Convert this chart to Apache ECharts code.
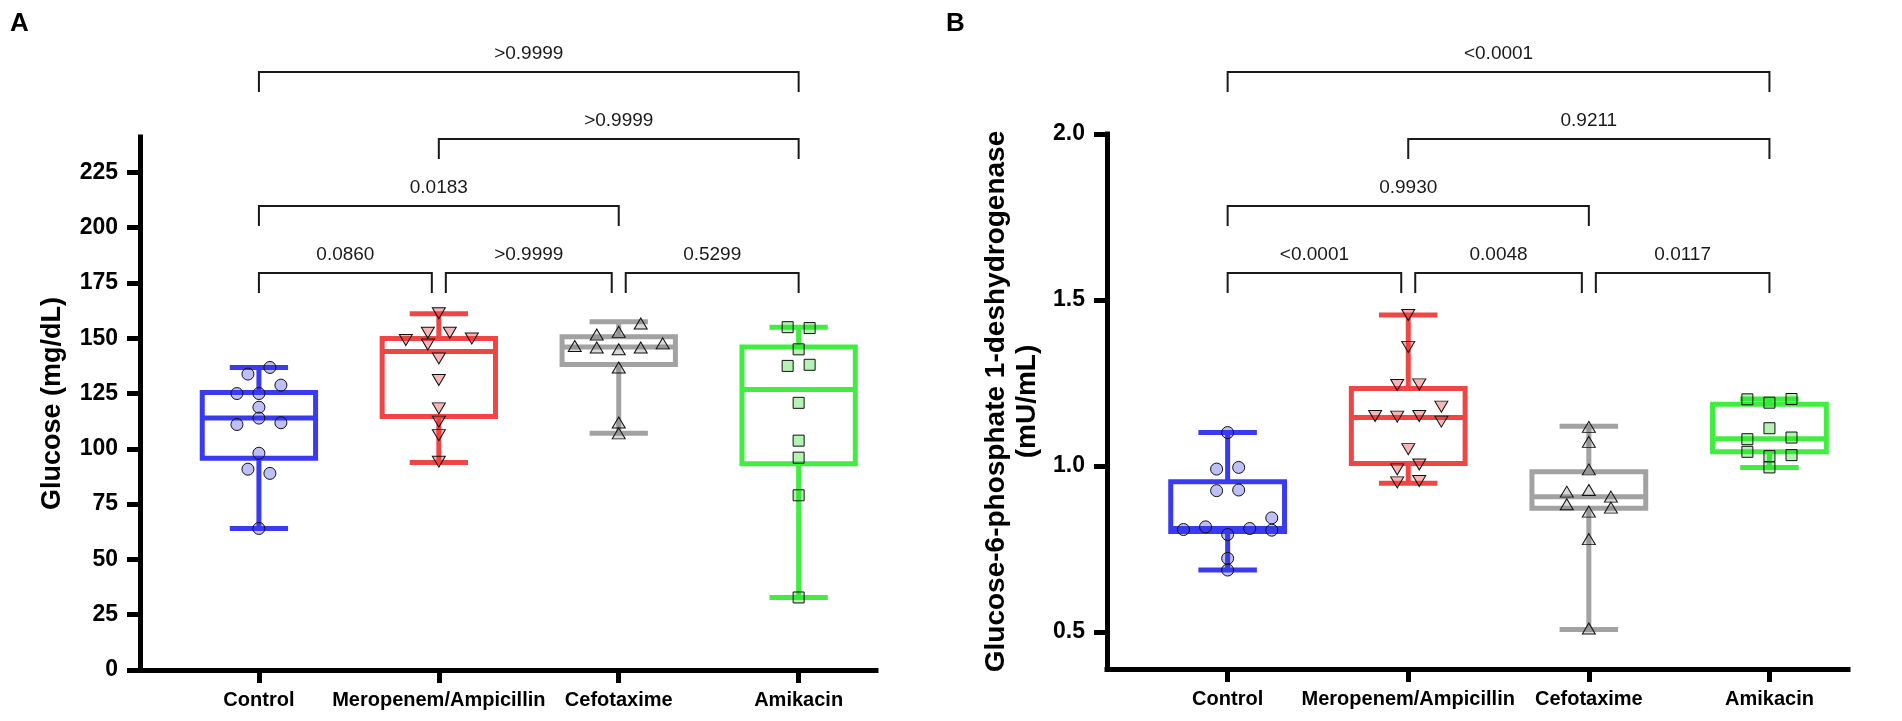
<!DOCTYPE html>
<html><head><meta charset="utf-8">
<script src="https://cdn.jsdelivr.net/npm/echarts@6/dist/echarts.min.js"></script>
<style>html,body{margin:0;padding:0;background:#fff}#c{width:1902px;height:721px}</style>
</head><body><div id="c"></div>
<script>
// ---------------- DATA ----------------
const categories = ['Control', 'Meropenem/Ampicillin', 'Cefotaxime', 'Amikacin'];

// Panel A: Glucose (mg/dL) — individual values and swarm lane of each point
const glucoseControl = [136.8, 133.8, 128.8, 125.0, 125.0, 118.8, 113.9, 111.0, 111.8, 98.0, 90.8, 88.9, 64.0];
const glucoseControlLane = [1, -1, 2, -2, 0, 0, 0, -2, 2, 0, -1, 1, 0];
const glucoseMero = [161.3, 152.5, 152.5, 149.2, 149.9, 147.2, 140.9, 131.1, 118.3, 112.3, 106.2, 94.2];
const glucoseMeroLane = [0, -1, 1, -3, 3, -1, 0, 0, 0, 0, 0, 0];
const glucoseCefo = [156.7, 151.7, 152.9, 146.5, 145.8, 145.0, 145.8, 147.7, 136.8, 111.9, 107.0];
const glucoseCefoLane = [2, -2, 0, -4, -2, 0, 2, 4, 0, 0, 0];
const glucoseAmik = [155.0, 154.6, 145.0, 137.5, 138.0, 120.8, 103.7, 96.0, 79.0, 32.8];
const glucoseAmikLane = [-1, 1, 0, -1, 1, 0, 0, 0, 0, 0];
// box statistics: [min, Q1, median, Q3, max]
const glucoseBox = [
  [64.0, 95.7, 114.0, 125.5, 136.8],
  [93.8, 114.6, 144.0, 149.9, 161.1],
  [107.0, 138.1, 146.0, 150.7, 157.5],
  [32.8, 93.3, 126.8, 146.1, 155.0]
];
const glucoseTicks = [0, 25, 50, 75, 100, 125, 150, 175, 200, 225];
const glucosePairs = [[0, 1], [1, 2], [2, 3], [0, 2], [1, 3], [0, 3]];
const glucoseP = ['0.0860', '>0.9999', '0.5299', '0.0183', '>0.9999', '>0.9999'];

// Panel B: Glucose-6-phosphate 1-deshydrogenase (mU/mL)
const g6pdControl = [1.101, 0.991, 0.996, 0.926, 0.928, 0.844, 0.809, 0.817, 0.812, 0.807, 0.794, 0.722, 0.687];
const g6pdControlLane = [0, -1, 1, -1, 1, 4, -4, -2, 2, 4, 0, 0, 0];
const g6pdMero = [1.455, 1.359, 1.244, 1.246, 1.179, 1.151, 1.149, 1.151, 1.134, 1.051, 1.005, 0.990, 0.951, 0.955];
const g6pdMeroLane = [0, 0, -1, 1, 3, -3, -1, 1, 3, 0, 1, -1, -1, 1];
const g6pdCefo = [1.118, 1.073, 0.990, 0.923, 0.928, 0.908, 0.885, 0.875, 0.863, 0.780, 0.511];
const g6pdCefoLane = [0, 0, 0, -2, 0, 2, -2, 2, 0, 0, 0];
const g6pdAmik = [1.201, 1.191, 1.202, 1.114, 1.081, 1.086, 1.043, 1.030, 1.033, 0.996];
const g6pdAmikLane = [-2, 0, 2, 0, -2, 2, -2, 0, 2, 0];
const g6pdBox = [
  [0.687, 0.803, 0.812, 0.953, 1.101],
  [0.948, 1.008, 1.146, 1.234, 1.455],
  [0.508, 0.873, 0.908, 0.983, 1.120],
  [0.996, 1.043, 1.082, 1.186, 1.202]
];
const g6pdTicks = [0.5, 1.0, 1.5, 2.0];
const g6pdPairs = [[0, 1], [1, 2], [2, 3], [0, 2], [1, 3], [0, 3]];
const g6pdP = ['<0.0001', '0.0048', '0.0117', '0.9930', '0.9211', '<0.0001'];

// ---------------- STYLE / LAYOUT ----------------
const FONT = "'Liberation Sans', Arial, Helvetica, sans-serif";
const LANE = 11 / 180;           // x-units between swarm lanes
const BOX_HALF = 0.315, CAP_HALF = 0.162;
const lineColors = ['#3a3af0', '#f04545', '#a2a2a2', '#40ee40'];
const fillColors = ['rgba(60,60,230,0.33)', 'rgba(235,60,60,0.38)', 'rgba(120,120,120,0.28)', 'rgba(40,220,40,0.35)'];
const symbols = ['circle', 'triangle', 'triangle', 'rect'];
const symbolRot = [0, 180, 0, 0];
const symbolSizes = [12, [13, 11], [13, 11], 11];
const BRACKET_BASE = 273, BRACKET_STEP = 67, LEG = 20, SHARE_GAP = 7;

function assignLevels(pairs) {
  const levels = [];
  pairs.forEach((p, k) => {
    let lv = 0;
    while (pairs.some((q, j) => j < k && levels[j] === lv && Math.max(p[0], q[0]) < Math.min(p[1], q[1]))) lv++;
    levels.push(lv);
  });
  return levels;
}

function boxRender(params, api) {
  const x = api.value(0);
  const g = Math.round(x) - 1;
  const p = v => api.coord([x, v]);
  const half = api.size([BOX_HALF, 0])[0];
  const cap = api.size([CAP_HALF, 0])[0];
  const cMin = p(api.value(1)), cQ1 = p(api.value(2)), cMed = p(api.value(3)), cQ3 = p(api.value(4)), cMax = p(api.value(5));
  const st = { stroke: lineColors[g], lineWidth: 5, fill: null };
  const X = cMin[0];
  return {
    type: 'group', children: [
      { type: 'line', shape: { x1: X, y1: cMin[1], x2: X, y2: cQ1[1] }, style: st },
      { type: 'line', shape: { x1: X, y1: cQ3[1], x2: X, y2: cMax[1] }, style: st },
      { type: 'line', shape: { x1: X - cap, y1: cMin[1], x2: X + cap, y2: cMin[1] }, style: st },
      { type: 'line', shape: { x1: X - cap, y1: cMax[1], x2: X + cap, y2: cMax[1] }, style: st },
      { type: 'rect', shape: { x: X - half, y: cQ3[1], width: 2 * half, height: cQ1[1] - cQ3[1] }, style: st },
      { type: 'line', shape: { x1: X - half, y1: cMed[1], x2: X + half, y2: cMed[1] }, style: st }
    ]
  };
}

function makeBracketRender(pairs, labels) {
  const levels = assignLevels(pairs);
  return function (params, api) {
    const k = params.dataIndex;
    const [a, b] = pairs[k];
    const lv = levels[k];
    let x1 = api.coord([a + 1, 1])[0];
    let x2 = api.coord([b + 1, 1])[0];
    if (pairs.some((q, j) => j !== k && levels[j] === lv && q[1] === a)) x1 += SHARE_GAP;
    if (pairs.some((q, j) => j !== k && levels[j] === lv && q[0] === b)) x2 -= SHARE_GAP;
    const y = BRACKET_BASE - lv * BRACKET_STEP;
    const st = { stroke: '#1a1a1a', lineWidth: 2, fill: null };
    return {
      type: 'group', children: [
        { type: 'polyline', shape: { points: [[x1, y + LEG], [x1, y], [x2, y], [x2, y + LEG]] }, style: st },
        { type: 'text', style: { text: labels[k], x: (x1 + x2) / 2, y: y - 9, align: 'center', verticalAlign: 'bottom',
            textAlign: 'center', textVerticalAlign: 'bottom', fontSize: 19, fontFamily: FONT, fill: '#1a1a1a' } }
      ]
    };
  };
}

function xAxisCfg(gridIndex, min, max) {
  return {
    type: 'value', gridIndex, min, max,
    splitLine: { show: false },
    axisLine: { show: true, onZero: false, lineStyle: { color: '#000', width: 5, cap: 'square' } },
    axisTick: { show: true, length: 13, lineStyle: { color: '#000', width: 5 }, customValues: [1, 2, 3, 4] },
    axisLabel: { customValues: [1, 2, 3, 4], formatter: v => categories[Math.round(v) - 1],
      fontSize: 20, fontWeight: 'bold', color: '#000', margin: 20, fontFamily: FONT }
  };
}
function yAxisCfg(gridIndex, min, max, ticks, fmt, name, nameGap, nameSize, lineH) {
  return {
    type: 'value', gridIndex, min, max,
    splitLine: { show: false },
    axisLine: { show: true, onZero: false, lineStyle: { color: '#000', width: 5, cap: 'square' } },
    axisTick: { show: true, length: 13, lineStyle: { color: '#000', width: 5 }, customValues: ticks },
    axisLabel: { customValues: ticks, formatter: fmt, fontSize: 23, fontWeight: 'bold', color: '#000', margin: 22, fontFamily: FONT },
    name, nameLocation: 'middle', nameRotate: 90, nameGap, nameMoveOverlap: false,
    nameTextStyle: { fontSize: nameSize, fontWeight: 'bold', color: '#000', fontFamily: FONT, lineHeight: lineH, align: 'center' }
  };
}

const groupsA = [[glucoseControl, glucoseControlLane], [glucoseMero, glucoseMeroLane], [glucoseCefo, glucoseCefoLane], [glucoseAmik, glucoseAmikLane]];
const groupsB = [[g6pdControl, g6pdControlLane], [g6pdMero, g6pdMeroLane], [g6pdCefo, g6pdCefoLane], [g6pdAmik, g6pdAmikLane]];

const series = [];
[[glucoseBox, groupsA, glucosePairs, glucoseP], [g6pdBox, groupsB, g6pdPairs, g6pdP]].forEach(([box, groups, pairs, labels], panel) => {
  series.push({
    type: 'custom', xAxisIndex: panel, yAxisIndex: panel, z: 2, silent: true, clip: false,
    renderItem: boxRender,
    encode: { x: 0, y: [1, 2, 3, 4, 5] },
    data: box.map((s, g) => [g + 1].concat(s))
  });
  groups.forEach(([vals, lanes], g) => {
    series.push({
      type: 'scatter', xAxisIndex: panel, yAxisIndex: panel, z: 3, silent: true,
      symbol: symbols[g], symbolRotate: symbolRot[g], symbolSize: symbolSizes[g],
      itemStyle: { color: fillColors[g], borderColor: '#111', borderWidth: 1, opacity: 1 },
      data: vals.map((v, i) => [g + 1 + lanes[i] * LANE, v])
    });
  });
  series.push({
    type: 'custom', xAxisIndex: panel, yAxisIndex: panel, z: 4, silent: true, clip: false,
    renderItem: makeBracketRender(pairs, labels),
    encode: { x: [0, 1] },
    data: pairs.map(p => [p[0] + 1, p[1] + 1])
  });
});

const chart = echarts.init(document.getElementById('c'), null, { renderer: 'canvas', width: 1902, height: 721 });
chart.setOption({
  animation: false,
  backgroundColor: '#fff',
  grid: [
    { left: 140, top: 137, width: 736, height: 533, outerBoundsMode: 'none', containLabel: false },
    { left: 1107, top: 134, width: 741, height: 535, outerBoundsMode: 'none', containLabel: false }
  ],
  xAxis: [xAxisCfg(0, 0.339, 4.43), xAxisCfg(1, 0.332, 4.435)],
  yAxis: [
    yAxisCfg(0, 0, 241, glucoseTicks, v => String(v), 'Glucose (mg/dL)', 72, 27, 31),
    yAxisCfg(1, 0.389, 2.0, g6pdTicks, v => v.toFixed(1), 'Glucose-6-phosphate 1-deshydrogenase\n(mU/mL)', 64, 28, 31)
  ],
  graphic: [
    { type: 'text', left: 10, top: 11, style: { text: 'A', fontSize: 26, fontWeight: 'bold', fontFamily: FONT, fill: '#000' } },
    { type: 'text', left: 946, top: 11, style: { text: 'B', fontSize: 26, fontWeight: 'bold', fontFamily: FONT, fill: '#000' } }
  ],
  series
});
</script>
</body></html>
